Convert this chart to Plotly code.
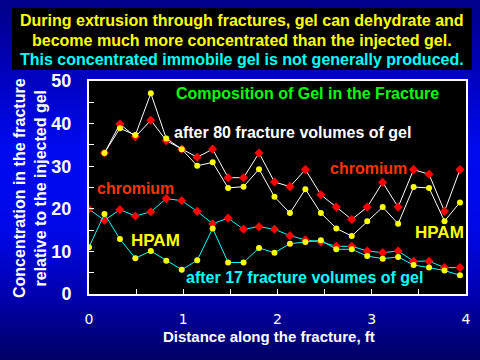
import plotly.graph_objects as go

# ---------------- data ----------------
step_ft = 0.164  # 5 cm spacing
x17 = [round(k * step_ft, 3) for k in range(25)]
x80 = [round(k * step_ft, 3) for k in range(1, 25)]

cr80 = [33.1, 39.9, 36.9, 40.8, 36.0, 34.0, 32.1, 34.0, 27.3, 27.3, 33.1, 26.3,
        25.2, 29.2, 23.3, 20.4, 17.5, 20.4, 26.2, 20.4, 29.2, 28.1, 19.4, 29.2]
hpam80 = [33.1, 38.9, 37.3, 47.1, 36.5, 34.0, 30.1, 30.9, 24.9, 25.2, 29.3, 22.8,
          19.0, 24.6, 19.0, 15.4, 13.6, 17.1, 20.4, 16.5, 25.1, 24.9, 17.1, 21.5]
cr17 = [19.9, 17.3, 19.8, 18.3, 19.3, 22.4, 21.9, 19.4, 16.5, 17.8, 15.2, 15.8, 15.2,
        13.7, 12.7, 12.2, 11.2, 11.2, 10.1, 9.7, 10.1, 7.7, 7.7, 6.2, 6.2]
hpam17 = [11.0, 18.8, 12.9, 8.4, 10.1, 7.8, 5.7, 7.9, 15.4, 7.4, 7.4, 10.8, 9.7,
          11.8, 12.2, 12.6, 10.5, 10.5, 8.9, 8.3, 8.7, 6.8, 6.2, 5.5, 4.4]

title_lines = ["During extrusion through fractures, gel can dehydrate and",
               "become much more concentrated than the injected gel.",
               "This concentrated immobile gel is not generally produced."]
y_tick_vals = [0, 10, 20, 30, 40, 50]
x_tick_vals = [0, 1, 2, 3, 4]

# ---------------- layout geometry ----------------
W, H = 480, 360
L, R, T, B = 89, 466, 81, 294


def px(xp):
    return (xp - L) / (R - L)


def py(yp):
    return (B - yp) / (B - T)


fig = go.Figure()

RED = "#FF0000"
YEL = "#FFFF00"
CYA = "#00FFFF"

# after 17 volumes (cyan lines)
fig.add_trace(go.Scatter(x=x17, y=cr17, mode="lines+markers",
                         line=dict(color=CYA, width=1),
                         marker=dict(symbol="diamond", size=7, color=RED)))
fig.add_trace(go.Scatter(x=x17, y=hpam17, mode="lines+markers",
                         line=dict(color=CYA, width=1),
                         marker=dict(symbol="circle", size=6, color=YEL)))
# after 80 volumes (white lines)
fig.add_trace(go.Scatter(x=x80, y=cr80, mode="lines+markers",
                         line=dict(color="white", width=1),
                         marker=dict(symbol="diamond", size=7, color=RED)))
fig.add_trace(go.Scatter(x=x80, y=hpam80, mode="lines+markers",
                         line=dict(color="white", width=1),
                         marker=dict(symbol="circle", size=6, color=YEL)))

# ---------------- background gradient ----------------
stops = [(0, (0, 0, 0x88)), (60, (0, 0, 0xB4)), (150, (0, 0x0A, 0xF0)),
         (230, (0, 0x08, 0xE8)), (295, (0, 0, 0xB0)), (360, (0, 0, 0x62))]


def col_at(y):
    for (y0, c0), (y1, c1) in zip(stops[:-1], stops[1:]):
        if y0 <= y <= y1:
            t = (y - y0) / (y1 - y0)
            return "rgb(%d,%d,%d)" % tuple(round(a + (b - a) * t) for a, b in zip(c0, c1))
    return "rgb(0,0,98)"


shapes = []
band = 6
for y0 in range(0, H, band):
    shapes.append(dict(type="rect", xref="paper", yref="paper", layer="below",
                       x0=px(0), x1=px(W), y0=py(y0 + band + 0.5), y1=py(y0),
                       fillcolor=col_at(y0 + band / 2), line=dict(width=0)))
# plot area black
shapes.append(dict(type="rect", xref="paper", yref="paper", layer="below",
                   x0=0, x1=1, y0=0, y1=1, fillcolor="black", line=dict(width=0)))
# title box
shapes.append(dict(type="rect", xref="paper", yref="paper", layer="below",
                   x0=px(12), x1=px(472), y0=py(70), y1=py(8),
                   fillcolor="black", line=dict(width=0)))

annotations = []
BOLD = "Liberation Sans, Arial, sans-serif"


def txt(text, xc, yc, color, size, **kw):
    annotations.append(dict(text="<b>%s</b>" % text, x=px(xc), y=py(yc), xref="paper", yref="paper",
                            showarrow=False, xanchor="center", yanchor="middle",
                            font=dict(family=BOLD, size=size, color=color), **kw))


txt(title_lines[0], 242, 20, YEL, 16)
txt(title_lines[1], 242, 40, YEL, 16)
txt(title_lines[2], 242, 59, CYA, 16)

txt("Composition of Gel in the Fracture", 307.5, 93, "#00FF00", 16)
txt("after 80 fracture volumes of gel", 292.5, 132, "white", 16)
txt("chromium", 135.5, 188, "#FF3300", 16)
txt("chromium", 368, 168, "#FF3300", 16)
txt("HPAM", 155.5, 240, YEL, 17)
txt("HPAM", 439.5, 232, YEL, 17)
txt("after 17 fracture volumes of gel", 304, 277, CYA, 16)
txt("Distance along the fracture, ft", 269, 336, "white", 15)
txt("Concentration in the fracture<br>relative to the injected gel", 30, 188, "white", 16,
    textangle=-90)

fig.update_layout(
    width=W, height=H,
    margin=dict(l=L, r=W - R, t=T, b=H - B, autoexpand=False),
    paper_bgcolor="#0000C0", plot_bgcolor="black",
    showlegend=False,
    shapes=shapes, annotations=annotations,
    font=dict(family=BOLD, color="white"),
)

fig.update_xaxes(range=[0, 4], tickvals=x_tick_vals, ticktext=[str(v) for v in x_tick_vals],
                 ticks="inside", ticklen=5, tickwidth=1, tickcolor="white",
                 minor=dict(dtick=0.5, tick0=0, ticks="inside", ticklen=5, tickwidth=1, tickcolor="white"),
                 showgrid=False, zeroline=False, showline=True, linecolor="white", linewidth=2,
                 mirror=True, tickfont=dict(family="DejaVu Sans, sans-serif", size=14, color="white"),
                 ticklabelstandoff=11, automargin=False)
fig.update_yaxes(range=[0, 50], tickvals=y_tick_vals, ticktext=["<b>%d</b>" % v for v in y_tick_vals],
                 ticks="inside", ticklen=0, tickcolor="white",
                 minor=dict(dtick=5, tick0=0, ticks="inside", ticklen=5, tickwidth=1, tickcolor="white"),
                 showgrid=False, zeroline=False, showline=True, linecolor="white", linewidth=2,
                 mirror=True, tickfont=dict(family=BOLD, size=18, color="white"),
                 ticklabelstandoff=12, automargin=False)

fig.write_html("out.html", config={"displayModeBar": False},
               post_script="document.body.style.margin='0';document.body.style.overflow='hidden';")
